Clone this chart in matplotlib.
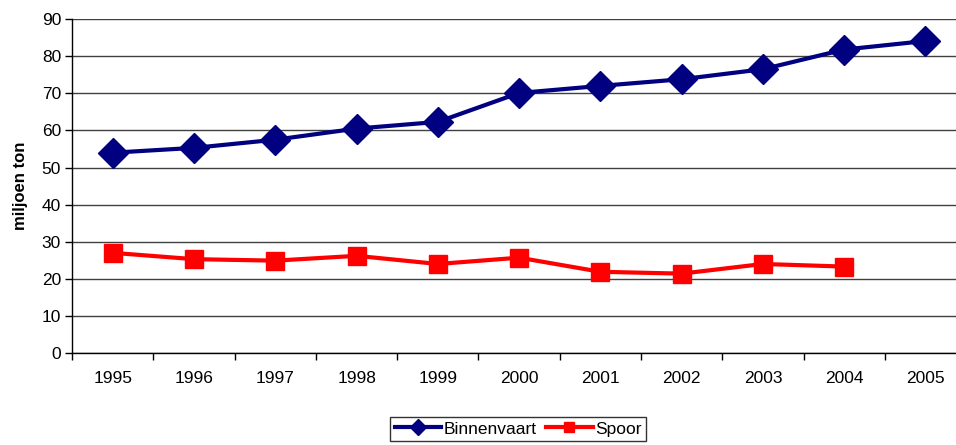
import matplotlib.pyplot as plt
import numpy as np

plt.rcParams['font.family'] = ['Liberation Sans', 'DejaVu Sans']

years = ['1995', '1996', '1997', '1998', '1999', '2000', '2001', '2002', '2003', '2004', '2005']
binnenvaart = [54.0, 55.3, 57.5, 60.5, 62.3, 70.1, 72.0, 73.8, 76.5, 81.8, 84.1]
spoor = [27.0, 25.3, 24.9, 26.2, 24.0, 25.7, 21.9, 21.4, 24.0, 23.3]

fig = plt.figure(figsize=(9.56, 4.45), dpi=100)
# the plot area runs past the right edge of the picture, as in the original
ax = fig.add_axes([0.0755, 0.2067, 0.935, 0.7503])

x = np.arange(len(years))
ax.plot(x, binnenvaart, color='#000080', lw=3, marker='D', markersize=15.5, label='Binnenvaart')
ax.plot(x[:len(spoor)], spoor, color='#ff0000', lw=3, marker='s', markersize=13.5, label='Spoor')

ax.set_xlim(-0.5, len(years) - 0.5)
ax.set_ylim(0, 90)
ax.set_yticks(range(0, 91, 10))
ax.set_xticks(x)
ax.set_xticklabels(years)
ax.set_xticks(np.arange(-0.5, len(years)), minor=True)
ax.tick_params(axis='x', which='major', length=0, pad=13, labelsize=12.5)
ax.tick_params(axis='x', which='minor', length=5, width=1)
ax.tick_params(axis='y', length=5, width=1, labelsize=12.5, pad=3)
ax.yaxis.grid(True, color='#404040', lw=1)
ax.set_axisbelow(True)
for s in ['top', 'right']:
    ax.spines[s].set_visible(False)
ax.spines['left'].set_linewidth(1)
ax.spines['bottom'].set_linewidth(1)
ax.set_ylabel('miljoen ton', fontsize=12, fontweight='bold', labelpad=10)

leg = fig.legend(loc='center', bbox_to_anchor=(0.542, 0.036), ncol=2, fontsize=12.5,
                 frameon=True, fancybox=False, edgecolor='black', handlelength=2.7,
                 markerscale=0.5, columnspacing=0.5, handletextpad=0.15,
                 borderpad=0.25)
leg.get_frame().set_linewidth(1)

fig.savefig('out.png', dpi=100)
